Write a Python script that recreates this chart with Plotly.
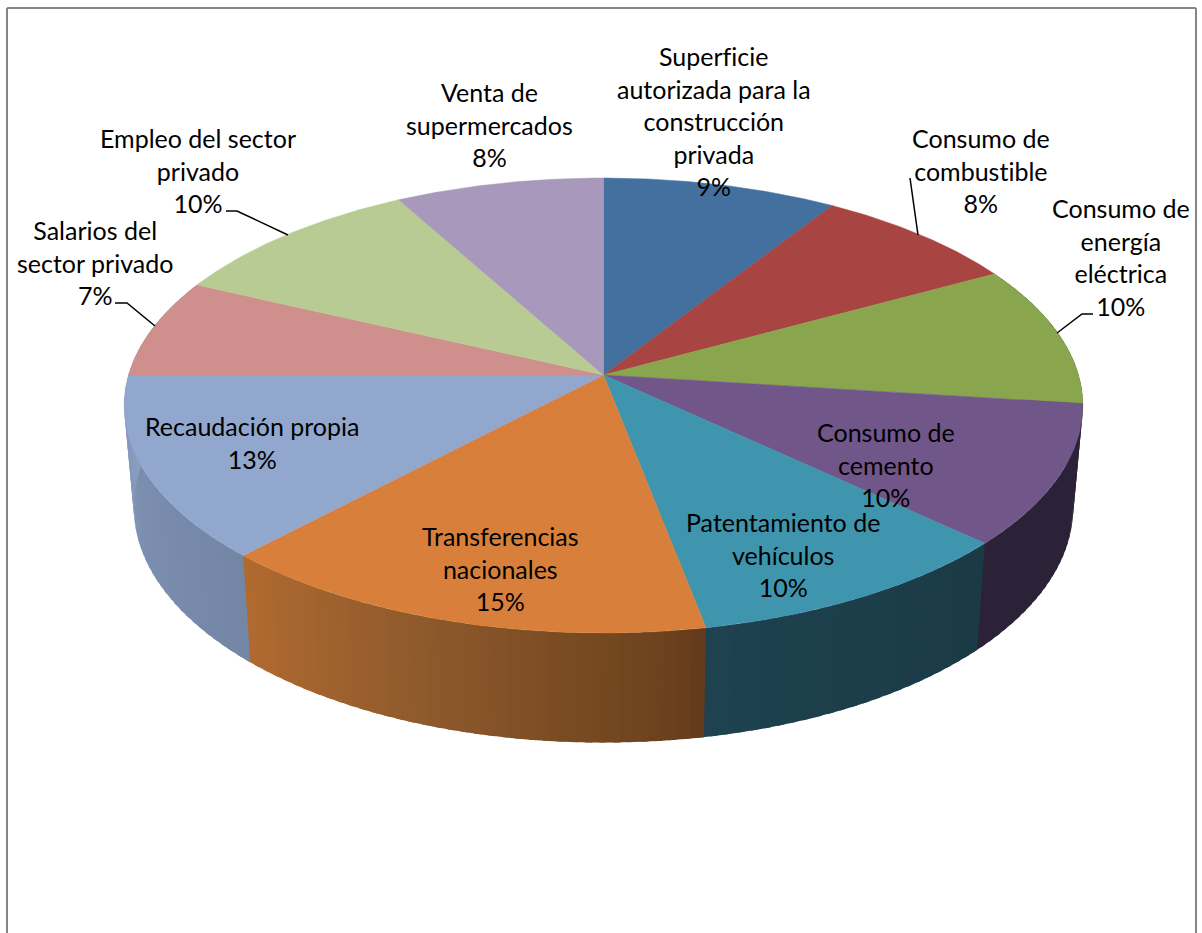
import numpy as np
import plotly.graph_objects as go

# ---- data ----
categories = ["Superficie autorizada para la construcción privada", "Consumo de combustible",
              "Consumo de energía eléctrica", "Consumo de cemento", "Patentamiento de vehículos",
              "Transferencias nacionales", "Recaudación propia", "Salarios del sector privado",
              "Empleo del sector privado", "Venta de supermercados"]
values = [9, 8, 10, 10, 10, 15, 13, 7, 10, 8]
label_lines = [["Superficie", "autorizada para la", "construcción", "privada"],
               ["Consumo de", "combustible"], ["Consumo de", "energía", "eléctrica"],
               ["Consumo de", "cemento"], ["Patentamiento de", "vehículos"],
               ["Transferencias", "nacionales"], ["Recaudación propia"],
               ["Salarios del", "sector privado"], ["Empleo del sector", "privado"],
               ["Venta de", "supermercados"]]

# ---- style ----
top_colors = ["#44709f", "#a84442", "#89a54d", "#71568a", "#3f95ad",
              "#d8803b", "#92a7cd", "#ce8f8d", "#b8cb93", "#a898bc"]
# side shading of each slice: (fraction along the slice, colour)
side_stops = {
    2: [(0, "#3e4a22"), (1, "#3e4a22")],
    3: [(0, "#2c2238"), (1, "#2c2238")],
    4: [(0, "#1a3a45"), (1, "#1e4250")],
    5: [(0, "#613a1c"), (0.05, "#6a3f1d"), (0.2, "#744820"), (0.57, "#8f5a2c"), (1, "#b16b30")],
    6: [(0, "#7386a6"), (0.57, "#7c8fb0"), (1, "#8a9dc0")],
    7: [(0, "#8a9dc0"), (1, "#8a9dc0")],
}
label_xy = [(714, 120.5), (981, 170.5), (1121, 256.5), (886, 464.5), (783, 554.5),
            (500, 568.5), (252, 442.5), (95, 262.5), (198, 170.5), (489, 124.5)]
leaders = [([226, 237, 288], [211, 211, 235]), ([115, 127, 155], [303, 303, 326]),
           ([910, 918], [178, 235]), ([1093, 1082, 1057], [314, 314, 333])]
CX, CY, A, B, K = 603.5, 375, 475, 223.4, 0.134
FONT = "Lato"
FONT_SIZE = 25


def top_xy(theta):
    t = np.radians(theta)
    u, v = np.sin(t), np.cos(t)
    d = 1 + K * v
    return CX + A * u / d, CY - B * v / d


def bottom_xy(theta):
    x, y = top_xy(theta)
    return CX + 0.98 * (x - CX), 1.035 * y + 87.5


def hex_rgb(h):
    return np.array([int(h[i:i + 2], 16) for i in (1, 3, 5)], float)


def side_color(i, frac):
    fr = [s[0] for s in side_stops[i]]
    rgbs = np.array([hex_rgb(s[1]) for s in side_stops[i]])
    c = [np.interp(frac, fr, rgbs[:, k]) for k in range(3)]
    return "rgb(%d,%d,%d)" % tuple(round(v) for v in c)


fig = go.Figure()
cum = np.concatenate([[0], np.cumsum(values)]) / sum(values) * 360

# side wall of the visible front part, painted in angle order with a small
# overlap beneath the next strip so no background shows through the joins
step = 1.5
for i in sorted(side_stops):
    n = max(2, int(round((cum[i + 1] - cum[i]) / step)))
    edges = np.linspace(cum[i], cum[i + 1], n + 1)
    for j in range(n):
        ths = np.array([edges[j], edges[j + 1] + 0.8])
        tx, ty = top_xy(ths)
        bx, by = bottom_xy(ths)
        col = side_color(i, (j + 0.5) / n)
        fig.add_trace(go.Scatter(x=[tx[0], tx[1], bx[1], bx[0], tx[0]], y=[ty[0], ty[1], by[1], by[0], ty[0]],
                                 mode="lines", fill="toself", fillcolor=col,
                                 line=dict(color=col, width=0), hoverinfo="skip", showlegend=False))

# top face
for i, name in enumerate(categories):
    ths = np.linspace(cum[i], cum[i + 1], 80)
    x, y = top_xy(ths)
    fig.add_trace(go.Scatter(x=np.r_[CX, x, CX], y=np.r_[CY, y, CY], mode="lines", fill="toself",
                             fillcolor=top_colors[i], line=dict(color=top_colors[i], width=0.5),
                             name=name, hoverinfo="name", showlegend=False))

for lx, ly in leaders:
    fig.add_trace(go.Scatter(x=lx, y=ly, mode="lines", line=dict(color="black", width=1.5),
                             hoverinfo="skip", showlegend=False))

annotations = []
for i, lines in enumerate(label_lines):
    txt = "<br>".join(lines + ["%d%%" % values[i]])
    annotations.append(dict(x=label_xy[i][0], y=label_xy[i][1], xref="x", yref="y", text=txt,
                            showarrow=False, align="center", xanchor="center", yanchor="middle",
                            font=dict(family=FONT, size=FONT_SIZE, color="black")))

border = dict(color="#868686", width=2)
shapes = [dict(type="line", xref="x", yref="y", x0=7, x1=7, y0=8, y1=933, line=border),
          dict(type="line", xref="x", yref="y", x0=7, x1=1196, y0=8, y1=8, line=border),
          dict(type="line", xref="x", yref="y", x0=1196, x1=1196, y0=8, y1=933, line=border)]

fig.update_layout(width=1202, height=933, margin=dict(l=0, r=0, t=0, b=0),
                  paper_bgcolor="white", plot_bgcolor="white",
                  xaxis=dict(range=[0, 1202], visible=False, fixedrange=True),
                  yaxis=dict(range=[933, 0], visible=False, fixedrange=True),
                  annotations=annotations, shapes=shapes)
post = ("document.body.style.margin='0';document.documentElement.style.overflow='hidden';"
        "var s=document.createElement('style');"
        "s.textContent='text{font-variant-ligatures:none !important;font-feature-settings:\"liga\" 0 !important}';"
        "document.head.appendChild(s);")
fig.write_html("out.html", post_script=post, config=dict(displayModeBar=False))
